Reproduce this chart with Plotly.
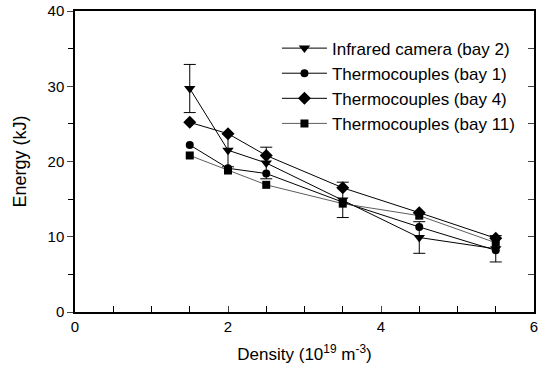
import plotly.graph_objects as go

density = [1.5, 2.0, 2.5, 3.5, 4.5, 5.5]
ir_bay2 = [29.7, 21.5, 19.8, 14.9, 9.9, 8.4]
ir_bay2_err = [3.2, 2.2, 2.1, 2.35, 2.1, 1.75]
tc_bay1 = [22.2, 19.1, 18.4, 14.6, 11.3, 8.2]
tc_bay4 = [25.2, 23.7, 20.8, 16.5, 13.2, 9.8]
tc_bay11 = [20.8, 18.8, 16.9, 14.4, 12.8, 9.2]

names = ["Infrared camera (bay 2)", "Thermocouples (bay 1)",
         "Thermocouples (bay 4)", "Thermocouples (bay 11)"]

fig = go.Figure()
fig.add_trace(go.Scatter(
    x=density, y=ir_bay2, name=names[0], mode="lines+markers",
    line=dict(color="black", width=1),
    marker=dict(symbol="triangle-down", size=10, color="black"),
    error_y=dict(type="data", array=ir_bay2_err, visible=True,
                 color="black", thickness=1, width=6)))
fig.add_trace(go.Scatter(
    x=density, y=tc_bay1, name=names[1], mode="lines+markers",
    line=dict(color="black", width=1),
    marker=dict(symbol="circle", size=8, color="black")))
fig.add_trace(go.Scatter(
    x=density, y=tc_bay4, name=names[2], mode="lines+markers",
    line=dict(color="black", width=1),
    marker=dict(symbol="diamond", size=10, color="black")))
fig.add_trace(go.Scatter(
    x=density, y=tc_bay11, name=names[3], mode="lines+markers",
    line=dict(color="#333333", width=0.8),
    marker=dict(symbol="square", size=8, color="black")))
# dummy trace for right-hand axis
fig.add_trace(go.Scatter(x=[0], y=[0], yaxis="y2", mode="markers",
                         marker=dict(opacity=0), showlegend=False,
                         hoverinfo="skip"))

fig.update_layout(
    width=540, height=371,
    margin=dict(l=75, r=2, t=10, b=59),
    paper_bgcolor="white", plot_bgcolor="white",
    font=dict(family="Liberation Sans, Arial, sans-serif", size=15, color="black"),
    showlegend=True,
    legend=dict(x=0.44, y=0.935, xanchor="left", yanchor="top",
                bgcolor="rgba(0,0,0,0)", font=dict(size=17),
                tracegroupgap=0, itemwidth=45),
    xaxis=dict(range=[0, 6], dtick=2, tick0=0, ticks="inside", ticklen=6,
               showgrid=False, zeroline=False, showline=True, linecolor="black",
               linewidth=1.5, mirror=True, tickfont=dict(size=15),
               ticklabeloverflow="allow",
               minor=dict(dtick=0.5, ticks="inside", ticklen=6, tickcolor="black"),
               title=dict(text="Density (10<sup>19</sup> m<sup>-3</sup>)",
                          font=dict(size=17), standoff=14)),
    yaxis=dict(range=[0, 40], dtick=10, tick0=0, ticks="outside", ticklen=6,
               showgrid=False, zeroline=False, showline=True, linecolor="black",
               linewidth=1.5, mirror=True, tickfont=dict(size=15),
               minor=dict(dtick=5, ticks="outside", ticklen=5, tickcolor="black"),
               title=dict(text="Energy (kJ)", font=dict(size=18), standoff=16)),
    yaxis2=dict(range=[0, 40], overlaying="y", side="right", dtick=5,
                ticks="inside", ticklen=6, showticklabels=False,
                showgrid=False, zeroline=False, showline=False),
)
fig.write_html("out.html")
